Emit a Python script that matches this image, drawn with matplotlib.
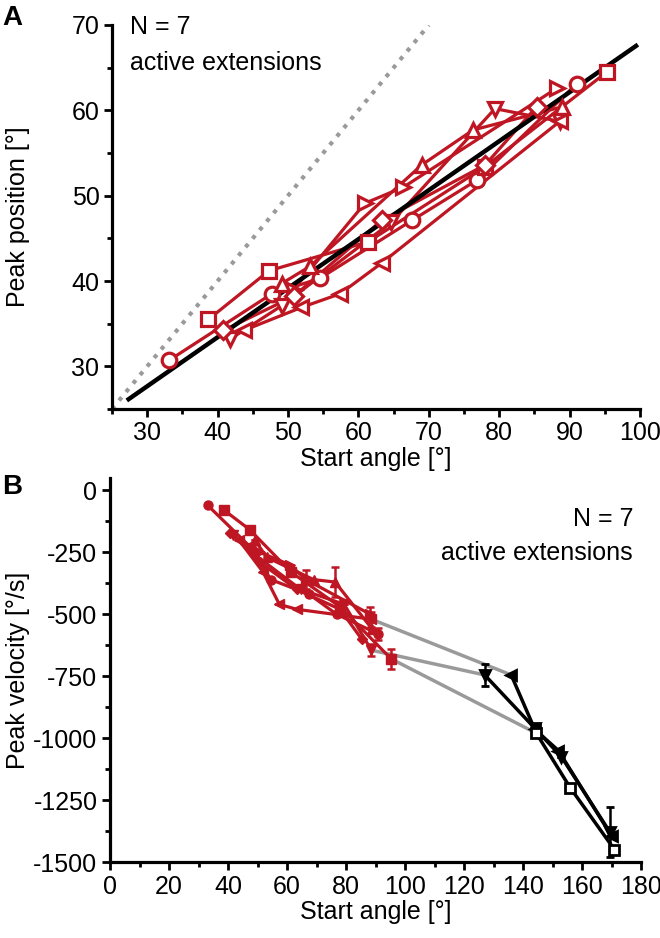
import matplotlib.pyplot as plt
from matplotlib.ticker import MultipleLocator

plt.rcParams['font.family'] = ['Liberation Sans', 'DejaVu Sans']
plt.rcParams['font.size'] = 18
plt.rcParams['axes.unicode_minus'] = False

RED = '#BE1622'
GREY = '#9a9a9a'

# ---------- data: panel A (start angle vs peak position) ----------
circ_x = [33.1, 47.7, 54.5, 67.6, 76.8, 91.0]
circ_pos = [30.7, 38.5, 40.3, 47.1, 51.8, 63.1]
sq_x = [38.7, 47.3, 61.4, 78.0, 95.3]
sq_pos = [35.5, 41.2, 44.6, 53.4, 64.5]
right_x = [50.8, 60.9, 66.4, 88.2]
right_pos = [39.0, 49.1, 51.0, 62.6]
up_x = [49.1, 53.1, 69.0, 76.3, 88.9]
up_pos = [39.7, 41.7, 53.6, 57.7, 60.4]
down_x = [41.8, 49.1, 64.7, 79.4, 88.6]
down_pos = [33.2, 37.1, 46.9, 60.2, 58.7]
left_x = [43.7, 51.9, 57.4, 63.3, 88.6]
left_pos = [34.2, 36.9, 38.5, 42.1, 58.7]
dia_x = [40.8, 50.8, 63.3, 78.0, 85.3]
dia_pos = [34.2, 38.2, 47.1, 53.6, 60.4]

fit_x = [27.1, 99.7]
fit_y = [26.0, 67.7]
unity = [25, 70]

# ---------- data: panel B (start angle vs peak velocity) ----------
circ_vel = [-60, -230, -360, -420, -500, -580]
circ_err = [0, 0, 0, 0, 0, 25]
sq_vel = [-80, -158, -330, -470, -680]
sq_err = [0, 0, 0, 0, 40]
right_vel = [-250, -300, -360, -500]
right_err = [0, 0, 40, 30]
up_vel = [-200, -270, -360, -370, -560]
up_err = [0, 0, 0, 60, 0]
down_vel = [-180, -260, -400, -460, -645]
down_err = [0, 0, 0, 0, 25]
left_vel = [-200, -330, -460, -480, -520]
left_err = [0, 0, 0, 0, 30]
dia_vel = [-170, -290, -400, -480, -600]
dia_err = [0, 0, 0, 0, 0]

# passive (black) continuations
bl_left_x = [136, 144, 152, 170]
bl_left_vel = [-745, -965, -1050, -1395]
bl_left_err = [0, 0, 0, 0]
bl_down_x = [127, 144, 153, 169.5]
bl_down_vel = [-745, -960, -1075, -1380]
bl_down_err = [45, 0, 0, 100]
bl_sq_x = [144.5, 156, 171]
bl_sq_vel = [-980, -1200, -1450]
bl_sq_err = [0, 0, 0]

series = [
    ('o', circ_x, circ_pos, circ_vel, circ_err),
    ('s', sq_x, sq_pos, sq_vel, sq_err),
    ('>', right_x, right_pos, right_vel, right_err),
    ('^', up_x, up_pos, up_vel, up_err),
    ('v', down_x, down_pos, down_vel, down_err),
    ('<', left_x, left_pos, left_vel, left_err),
    ('D', dia_x, dia_pos, dia_vel, dia_err),
]
black = [
    ('<', left_x, left_vel, bl_left_x, bl_left_vel, bl_left_err, 'k'),
    ('v', down_x, down_vel, bl_down_x, bl_down_vel, bl_down_err, 'k'),
    ('s', sq_x, sq_vel, bl_sq_x, bl_sq_vel, bl_sq_err, 'white'),
]


def style_axes(ax):
    for s in ['top', 'right']:
        ax.spines[s].set_visible(False)
    for s in ['left', 'bottom']:
        ax.spines[s].set_linewidth(2.3)
    ax.tick_params(which='major', direction='out', length=6, width=2, labelsize=18, pad=3)
    ax.tick_params(which='minor', direction='out', length=3.5, width=2)


fig = plt.figure(figsize=(6.6, 9.38), dpi=100)

# ---------- panel A ----------
axA = fig.add_axes([112 / 660, 1 - 409 / 938, 528 / 660, 384 / 938])
axA.plot(unity, unity, ls=':', color=GREY, lw=3, zorder=1)
for m, x, pos, vel, err in series:
    axA.plot(x, pos, color=RED, lw=2.3, zorder=2)
axA.plot(fit_x, fit_y, color='k', lw=3.2, zorder=3, solid_capstyle='butt')
for m, x, pos, vel, err in series:
    ms = 9 if m == 'D' else 10.5
    axA.plot(x, pos, ls='none', marker=m, ms=ms, mfc='white', mec=RED, mew=2.3, zorder=4)
axA.set_xlim(25, 100)
axA.set_ylim(25, 70)
axA.set_xticks(range(30, 101, 10))
axA.xaxis.set_minor_locator(MultipleLocator(5))
axA.yaxis.set_major_locator(MultipleLocator(10))
axA.yaxis.set_minor_locator(MultipleLocator(5))
style_axes(axA)
axA.set_xlabel('Start angle [°]', labelpad=1)
axA.set_ylabel('Peak position [°]')
axA.yaxis.set_label_coords(-0.155, 0.5)
axA.text(0.034, 0.995, 'N = 7', transform=axA.transAxes, va='center', ha='left')
axA.text(0.034, 0.901, 'active extensions', transform=axA.transAxes, va='center', ha='left')

# ---------- panel B ----------
axB = fig.add_axes([110 / 660, 1 - 862 / 938, 531 / 660, 384 / 938])
for m, x, vel, bx, bvel, berr, face in black:
    axB.plot([x[-1], bx[0]], [vel[-1], bvel[0]], color=GREY, lw=2.5, zorder=1)
for m, x, pos, vel, err in series:
    ms = 5.5 if m == 'D' else 6.5
    axB.errorbar(x, vel, yerr=err, color=RED, lw=2.3, marker=m, ms=ms, mfc=RED, mec=RED,
                 elinewidth=1.8, capsize=3, capthick=1.8, zorder=3)
for m, x, vel, bx, bvel, berr, face in black:
    axB.errorbar(bx, bvel, yerr=berr, color='k', lw=2.5, marker=m, ms=6.5, mfc=face, mec='k',
                 mew=2, elinewidth=1.8, capsize=3, capthick=1.8, zorder=2)
axB.set_xlim(0, 180)
axB.set_ylim(-1500, 50)
axB.xaxis.set_major_locator(MultipleLocator(20))
axB.xaxis.set_minor_locator(MultipleLocator(10))
axB.yaxis.set_major_locator(MultipleLocator(250))
axB.yaxis.set_minor_locator(MultipleLocator(125))
style_axes(axB)
axB.set_xlabel('Start angle [°]', labelpad=1)
axB.set_ylabel('Peak velocity [°/s]')
axB.yaxis.set_label_coords(-0.151, 0.5)
axB.text(0.985, 0.893, 'N = 7', transform=axB.transAxes, va='center', ha='right')
axB.text(0.985, 0.805, 'active extensions', transform=axB.transAxes, va='center', ha='right')

fig.text(12 / 660, 1 - 18 / 938, 'A', fontsize=20, fontweight='bold', ha='center', va='center')
fig.text(12 / 660, 1 - 487 / 938, 'B', fontsize=20, fontweight='bold', ha='center', va='center')

fig.savefig('out.png', dpi=100)
